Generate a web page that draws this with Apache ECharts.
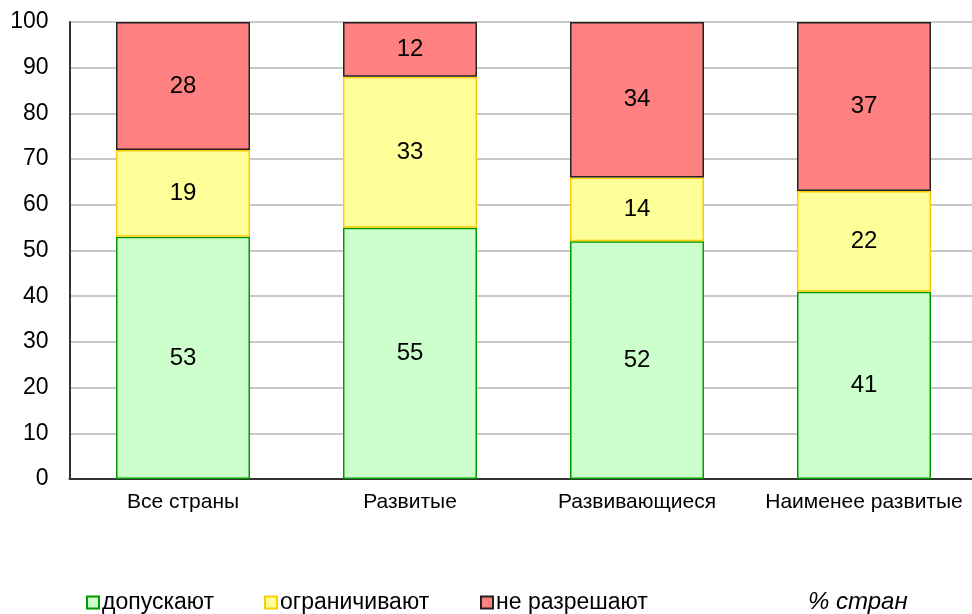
<!DOCTYPE html>
<html><head><meta charset="utf-8">
<script src="https://cdn.jsdelivr.net/npm/echarts@6/dist/echarts.min.js"></script>
<style>html,body{margin:0;padding:0;background:#fff}#c{width:972px;height:614px}</style>
</head><body><div id="c"></div>
<script>
const categories = ['Все страны', 'Развитые', 'Развивающиеся', 'Наименее развитые'];
const allow = [53, 55, 52, 41];
const restrict = [19, 33, 14, 22];
const forbid = [28, 12, 34, 37];
const yTicks = [0, 10, 20, 30, 40, 50, 60, 70, 80, 90, 100];

const font = 'Liberation Sans, Arial, sans-serif';
const chart = echarts.init(document.getElementById('c'), null, {renderer: 'canvas'});
const lbl = {show: true, position: 'inside', color: '#000', fontSize: 24, fontFamily: font};
const legText = {fontSize: 23, fontFamily: font, color: '#000', padding: [0, 0, 0, -2]};
chart.setOption({
  animation: false,
  grid: {left: 69.5, top: 22, width: 908, height: 457, containLabel: false, outerBoundsMode: 'none'},
  xAxis: {
    type: 'category', data: categories,
    axisLine: {lineStyle: {color: '#333', width: 2}},
    axisTick: {show: false},
    axisLabel: {color: '#000', fontSize: 21, fontFamily: font, margin: 13, interval: 0}
  },
  yAxis: {
    type: 'value', min: yTicks[0], max: yTicks[yTicks.length - 1], interval: 10,
    axisLine: {show: true, lineStyle: {color: '#333', width: 2}},
    axisTick: {show: false},
    axisLabel: {color: '#000', fontSize: 23, fontFamily: font, margin: 21},
    splitLine: {lineStyle: {color: '#c8c8c8', width: 2}}
  },
  legend: [
    {left: 81, top: 586, icon: 'rect', itemWidth: 12, itemHeight: 12, data: ['допускают'], textStyle: legText},
    {left: 259, top: 586, icon: 'rect', itemWidth: 12, itemHeight: 12, data: ['ограничивают'], textStyle: legText},
    {left: 475, top: 586, icon: 'rect', itemWidth: 12, itemHeight: 12, data: ['не разрешают'], textStyle: legText}
  ],
  graphic: [{type: 'text', left: 808, top: 590,
    style: {text: '% стран', fontSize: 24, fontStyle: 'italic', fontFamily: font, fill: '#000'}}],
  series: [
    {name: 'допускают', type: 'bar', stack: 's', data: allow, barWidth: 134,
     itemStyle: {color: '#CCFFCC', borderColor: '#009900', borderWidth: 1.5}, label: lbl},
    {name: 'ограничивают', type: 'bar', stack: 's', data: restrict, barWidth: 134,
     itemStyle: {color: '#FFFF99', borderColor: '#FFCC00', borderWidth: 1.5}, label: lbl},
    {name: 'не разрешают', type: 'bar', stack: 's', data: forbid, barWidth: 134,
     itemStyle: {color: '#FF8080', borderColor: '#222', borderWidth: 1.5}, label: lbl}
  ]
});
</script></body></html>
